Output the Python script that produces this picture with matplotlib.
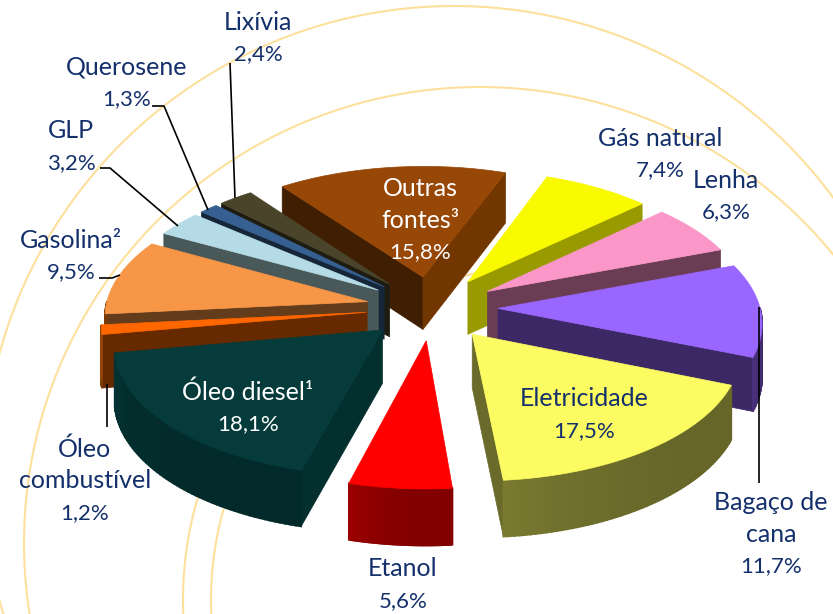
import numpy as np
import matplotlib
matplotlib.use("Agg")
import matplotlib.pyplot as plt

# ---- data ----
names = ["Outras\nfontes³", "Gás natural", "Lenha", "Bagaço de\ncana", "Eletricidade", "Etanol",
         "Óleo diesel¹", "Óleo\ncombustível", "Gasolina²", "GLP", "Querosene", "Lixívia"]
values = [15.8, 7.4, 6.3, 11.7, 17.5, 5.6, 18.1, 1.2, 9.5, 3.2, 1.3, 2.4]
top_colors = ["#974706", "#F9F900", "#FB97C8", "#9966FF", "#FCFC62", "#FF0000",
              "#053B3B", "#FF6600", "#F79646", "#B5DCE6", "#366092", "#4A452A"]
start_walls = ["#3F1E02", "#999900", "#6B3D55", "#3D2866", "#6A6A2B", "#990000",
               "#042F2F", "#662900", "#633C1C", "#495859", "#162639", "#1E1C11"]
end_walls = ["#723600", "#999900", "#6B3D55", "#3D2866", "#6A6A2B", "#800000",
             "#042F2F", "#662900", "#633C1C", "#495859", "#162639", "#1E1C11"]
arc_walls = ["#723600", "#999900", "#6B3D55", "#3D2866", "#666629", "#820000",
             "#032A2A", "#7A3A08", "#7A3A08", "#495859", "#162639", "#1E1C11"]
label_xy = [(420, 188), (660, 138), (726, 180), (771, 502), (584, 399), (403, 569),
            (248, 392), (85, 449), (71, 240), (71, 131), (127, 67), (258, 22)]
label_colors = ["white", None, None, None, None, None, "white", None, None, None, None, None]

START = -36.5
CX, CY = 432.0, 308.0
R, EXPLODE, DEPTH = 262.0, 66.0, 53.0
K, D = 0.485, 2700.0
TEXT = "#14306B"
ARC = "#FDE09C"
FS = 18
FS_VALUE = 16
LINE_STEP = 32

plt.rcParams["font.family"] = ["Lato", "DejaVu Sans"]
fig = plt.figure(figsize=(8.33, 6.14), dpi=100)
ax = fig.add_axes([0, 0, 1, 1])
ax.set_xlim(0, 833)
ax.set_ylim(614, 0)
ax.axis("off")


def circle(cx, cy, r, a0, a1):
    t = np.radians(np.linspace(a0, a1, 300))
    ax.plot(cx + r * np.cos(t), cy + r * np.sin(t), color=ARC, lw=1.5, zorder=1)


circle(454, 477, 471, 140, 360)
circle(480, 543, 456, 100, 330)
circle(545, 600, 334, 150, 258)
circle(545, 600, 362, 150, 200)


def proj(wx, wy, z=0.0):
    s = 1.0 / (1.0 + wy / D)
    return CX + wx * s, CY - K * wy * s + z * np.sqrt(s)


def shade(color, f):
    c = np.array(matplotlib.colors.to_rgb(color)) * f
    return tuple(np.clip(c, 0, 1))


def draw_slice(a0, a1, top, swall, ewall, awall, zo):
    mid = np.radians((a0 + a1) / 2)
    ox, oy = EXPLODE * np.sin(mid), EXPLODE * np.cos(mid)
    th = np.radians(np.linspace(a0, a1, max(8, int(a1 - a0) + 2)))
    ax_ = ox + R * np.sin(th)
    ay_ = oy + R * np.cos(th)

    def wall(px, py, color, lw=0.5):
        x1, y1 = proj(np.asarray(px), np.asarray(py))
        x2, y2 = proj(np.asarray(px), np.asarray(py), DEPTH)
        ax.fill(np.r_[x1, x2[::-1]], np.r_[y1, y2[::-1]], color=color, lw=lw, zorder=zo)

    # the radial faces looking at the viewer
    if np.sin(th[0]) < 0:
        wall([ox, ax_[0]], [oy, ay_[0]], swall)
    if np.sin(th[-1]) > 0:
        wall([ox, ax_[-1]], [oy, ay_[-1]], ewall)
    # the outer rim, with a soft gradient getting lighter to the left
    fine = np.radians(np.linspace(a0, a1, 60))
    for i in range(len(fine) - 1):
        if np.cos((fine[i] + fine[i + 1]) / 2) < 0:
            u = (i + 0.5) / (len(fine) - 1)
            f = 1.0 + 0.2 * u ** 3
            wall(ox + R * np.sin(fine[i:i + 2]), oy + R * np.cos(fine[i:i + 2]), shade(awall, f), lw=1.2)
    x, y = proj(np.r_[ox, ax_], np.r_[oy, ay_])
    ax.fill(x, y, color=top, lw=0.5, zorder=zo + 0.1)


edges = START + 3.6 * np.r_[0, np.cumsum(values)]
mids = (edges[:-1] + edges[1:]) / 2
order = np.argsort(-np.cos(np.radians(mids)))
for rank, i in enumerate(order):
    draw_slice(edges[i], edges[i + 1], top_colors[i], start_walls[i], end_walls[i], arc_walls[i], 2 + rank)

# leader lines
leaders = [([230, 235], [63, 198]), ([152, 164, 208], [106, 106, 210]),
           ([100, 110, 178], [168, 168, 226]), ([99, 112, 120], [278, 278, 275]),
           ([107, 107], [384, 427]), ([759, 759], [307, 483])]
for lx, ly in leaders:
    ax.plot(lx, ly, color="black", lw=1.2, zorder=30, solid_capstyle="butt")

for name, val, (x, y), col in zip(names, values, label_xy, label_colors):
    lines = name.split("\n")
    for j, line in enumerate(lines):
        ax.text(x, y + j * LINE_STEP, line, ha="center", va="center", fontsize=FS,
                color=col or TEXT, zorder=40)
    ax.text(x, y + len(lines) * LINE_STEP, f"{val:.1f}".replace(".", ",") + "%", ha="center",
            va="center", fontsize=FS_VALUE, color=col or TEXT, zorder=40)

fig.savefig("out.png", dpi=100)
